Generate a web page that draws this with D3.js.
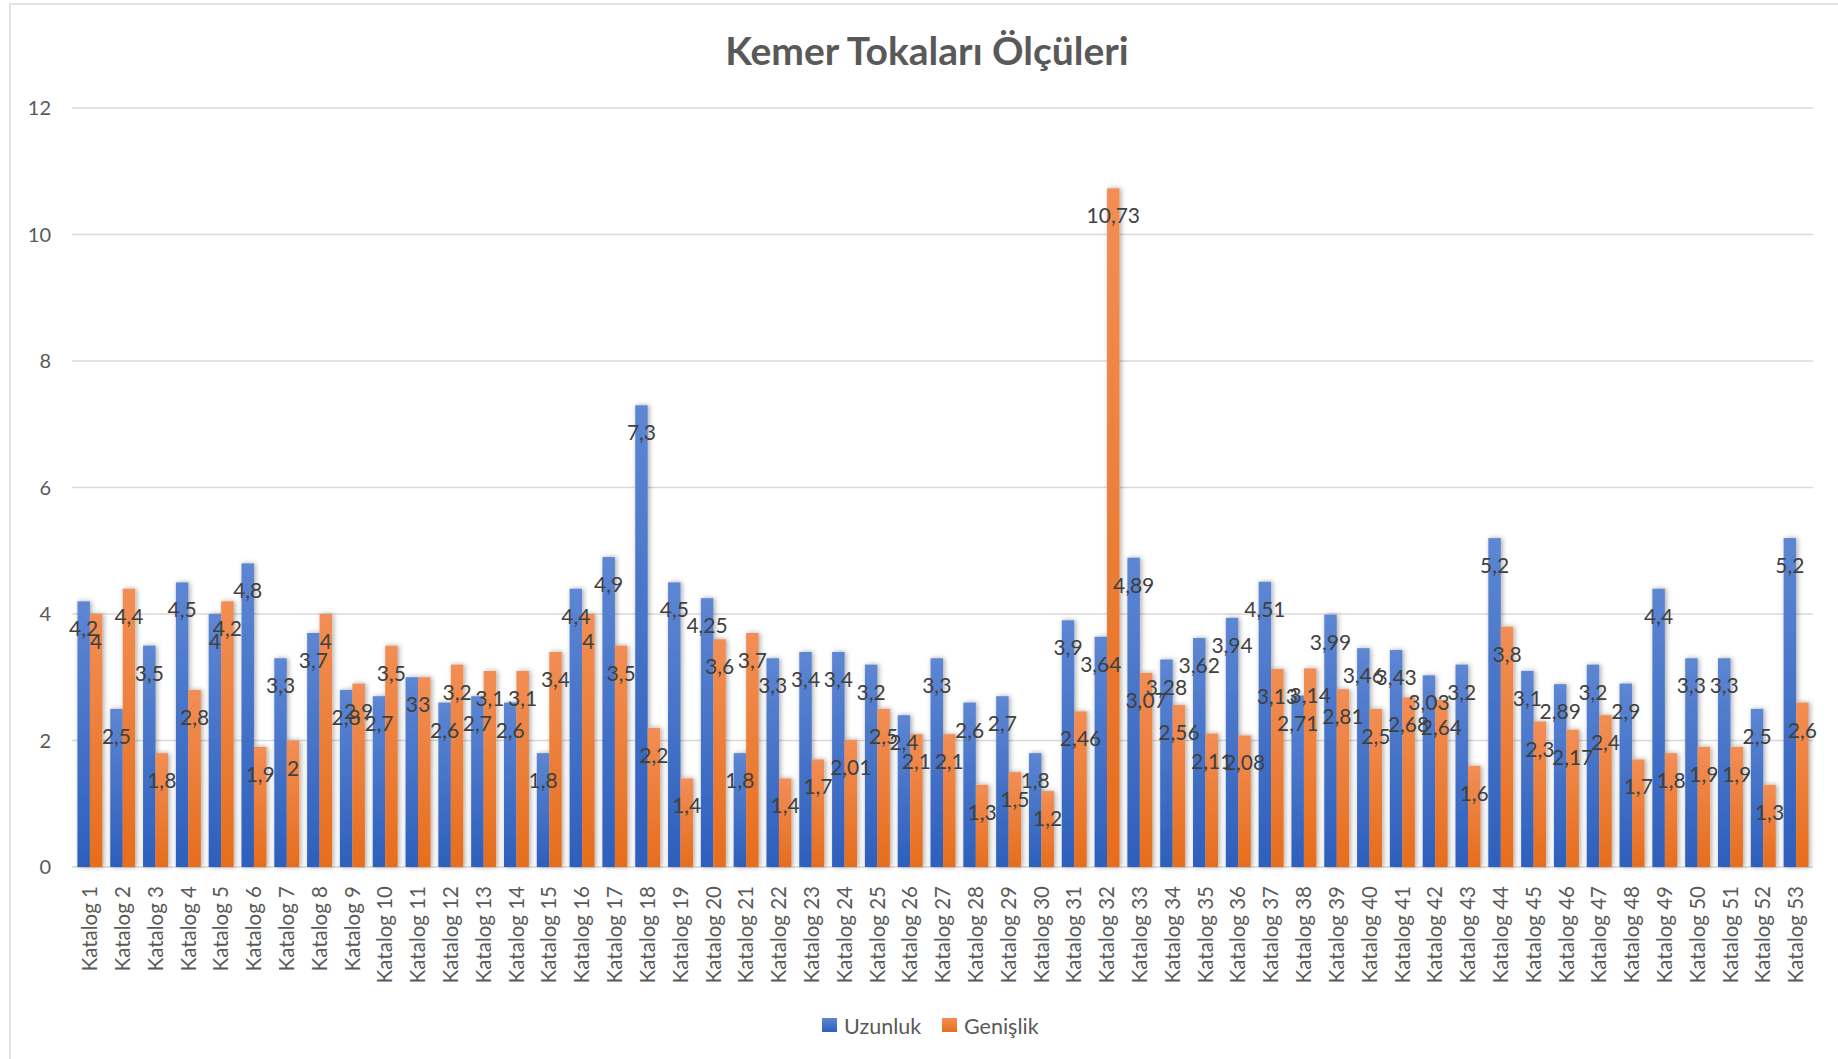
<!DOCTYPE html>
<html>
<head>
<meta charset="utf-8">
<script src="https://cdn.jsdelivr.net/npm/d3@7"></script>
<style>
  body { margin: 0; background: #fff; }
  svg { display: block; font-family: Lato, "Open Sans", "Noto Sans", sans-serif; }
</style>
</head>
<body>
<svg id="chart" width="1838" height="1059"></svg>
<script>
// Belt buckle measurements per catalogue item
const categories = [
  "Katalog 1","Katalog 2","Katalog 3","Katalog 4","Katalog 5","Katalog 6","Katalog 7","Katalog 8","Katalog 9","Katalog 10",
  "Katalog 11","Katalog 12","Katalog 13","Katalog 14","Katalog 15","Katalog 16","Katalog 17","Katalog 18","Katalog 19","Katalog 20",
  "Katalog 21","Katalog 22","Katalog 23","Katalog 24","Katalog 25","Katalog 26","Katalog 27","Katalog 28","Katalog 29","Katalog 30",
  "Katalog 31","Katalog 32","Katalog 33","Katalog 34","Katalog 35","Katalog 36","Katalog 37","Katalog 38","Katalog 39","Katalog 40",
  "Katalog 41","Katalog 42","Katalog 43","Katalog 44","Katalog 45","Katalog 46","Katalog 47","Katalog 48","Katalog 49","Katalog 50",
  "Katalog 51","Katalog 52","Katalog 53"
];
const uzunluk = [
  4.2, 2.5, 3.5, 4.5, 4, 4.8, 3.3, 3.7, 2.8, 2.7,
  3, 2.6, 2.7, 2.6, 1.8, 4.4, 4.9, 7.3, 4.5, 4.25,
  1.8, 3.3, 3.4, 3.4, 3.2, 2.4, 3.3, 2.6, 2.7, 1.8,
  3.9, 3.64, 4.89, 3.28, 3.62, 3.94, 4.51, 2.71, 3.99, 3.46,
  3.43, 3.03, 3.2, 5.2, 3.1, 2.89, 3.2, 2.9, 4.4, 3.3,
  3.3, 2.5, 5.2
];
const genislik = [
  4, 4.4, 1.8, 2.8, 4.2, 1.9, 2, 4, 2.9, 3.5,
  3, 3.2, 3.1, 3.1, 3.4, 4, 3.5, 2.2, 1.4, 3.6,
  3.7, 1.4, 1.7, 2.01, 2.5, 2.1, 2.1, 1.3, 1.5, 1.2,
  2.46, 10.73, 3.07, 2.56, 2.11, 2.08, 3.13, 3.14, 2.81, 2.5,
  2.68, 2.64, 1.6, 3.8, 2.3, 2.17, 2.4, 1.7, 1.8, 1.9,
  1.9, 1.3, 2.6
];
const seriesNames = ["Uzunluk", "Genişlik"];
const yTicks = [0, 2, 4, 6, 8, 10, 12];
const titleText = "Kemer Tokaları Ölçüleri";

const svg = d3.select("#chart");
const plot = { left: 73.5, right: 1812.5, top: 108, bottom: 867 };

// chart frame
svg.append("rect")
  .attr("x", 10).attr("y", 4)
  .attr("width", 1900).attr("height", 1100)
  .attr("fill", "#fff").attr("stroke", "#d9d9d9").attr("stroke-width", 1.5);

const defs = svg.append("defs");
const gradColors = [["#5d86d3", "#2d5fbc"], ["#f28e55", "#e66d1c"]];
gradColors.forEach((c, i) => {
  const g = defs.append("linearGradient").attr("id", "grad" + i)
    .attr("x1", 0).attr("y1", 0).attr("x2", 0).attr("y2", 1);
  g.append("stop").attr("offset", "0%").attr("stop-color", c[0]);
  g.append("stop").attr("offset", "100%").attr("stop-color", c[1]);
});
const sh = defs.append("filter").attr("id", "shadow")
  .attr("x", "-60%").attr("y", "-5%").attr("width", "220%").attr("height", "110%");
sh.append("feDropShadow").attr("dx", 1.5).attr("dy", 0).attr("stdDeviation", 2.5)
  .attr("flood-color", "#000").attr("flood-opacity", 0.35);

const x = d3.scaleBand().domain(categories)
  .range([plot.left, plot.right]).paddingInner(0.24).paddingOuter(0.12);
const xs = d3.scaleBand().domain(seriesNames).range([0, x.bandwidth()]);
const y = d3.scaleLinear().domain([0, 12]).range([plot.bottom, plot.top]);

// gridlines
svg.append("g").selectAll("line").data(yTicks).join("line")
  .attr("x1", 72).attr("x2", 1813)
  .attr("y1", d => y(d)).attr("y2", d => y(d))
  .attr("stroke", "#d9d9d9").attr("stroke-width", 1.5);

// y-axis labels
svg.append("g").selectAll("text").data(yTicks).join("text")
  .attr("x", 51).attr("y", d => y(d)).attr("dy", "0.35em")
  .attr("text-anchor", "end").attr("font-size", 20).attr("fill", "#595959")
  .text(d => d);

const series = [uzunluk, genislik];
const rows = [];
series.forEach((vals, si) => vals.forEach((v, i) => rows.push({ s: si, c: categories[i], v })));

svg.append("g").attr("filter", "url(#shadow)")
  .selectAll("rect").data(rows).join("rect")
  .attr("x", d => x(d.c) + xs(seriesNames[d.s]))
  .attr("width", xs.bandwidth())
  .attr("y", d => y(d.v))
  .attr("height", d => y(0) - y(d.v))
  .attr("fill", d => `url(#grad${d.s})`);

// value labels, inside the end of each bar
svg.append("g").selectAll("text").data(rows).join("text")
  .attr("x", d => x(d.c) + xs(seriesNames[d.s]) + xs.bandwidth() / 2)
  .attr("y", d => y(d.v) + 35)
  .attr("text-anchor", "middle").attr("font-size", 21).attr("fill", "#404040")
  .text(d => String(d.v).replace(".", ","));

// category labels
svg.append("g").selectAll("text").data(categories).join("text")
  .attr("transform", d => `translate(${x(d) + x.bandwidth() / 2},886) rotate(-90)`)
  .attr("dy", "0.35em").attr("text-anchor", "end")
  .attr("font-size", 20.5).attr("fill", "#595959")
  .text(d => d);

// title
svg.append("text").attr("x", 927).attr("y", 65)
  .attr("text-anchor", "middle").attr("font-size", 39).attr("font-weight", "bold")
  .attr("fill", "#595959").text(titleText);

// legend
const legendX = [822, 942];
const lg = svg.append("g").selectAll("g").data(seriesNames).join("g")
  .attr("transform", (d, i) => `translate(${legendX[i]},1018)`);
lg.append("rect").attr("width", 15).attr("height", 14)
  .attr("fill", (d, i) => `url(#grad${i})`);
lg.append("text").attr("x", 22).attr("y", 16)
  .attr("font-size", 21.5).attr("fill", "#595959").text(d => d);
</script>
</body>
</html>
